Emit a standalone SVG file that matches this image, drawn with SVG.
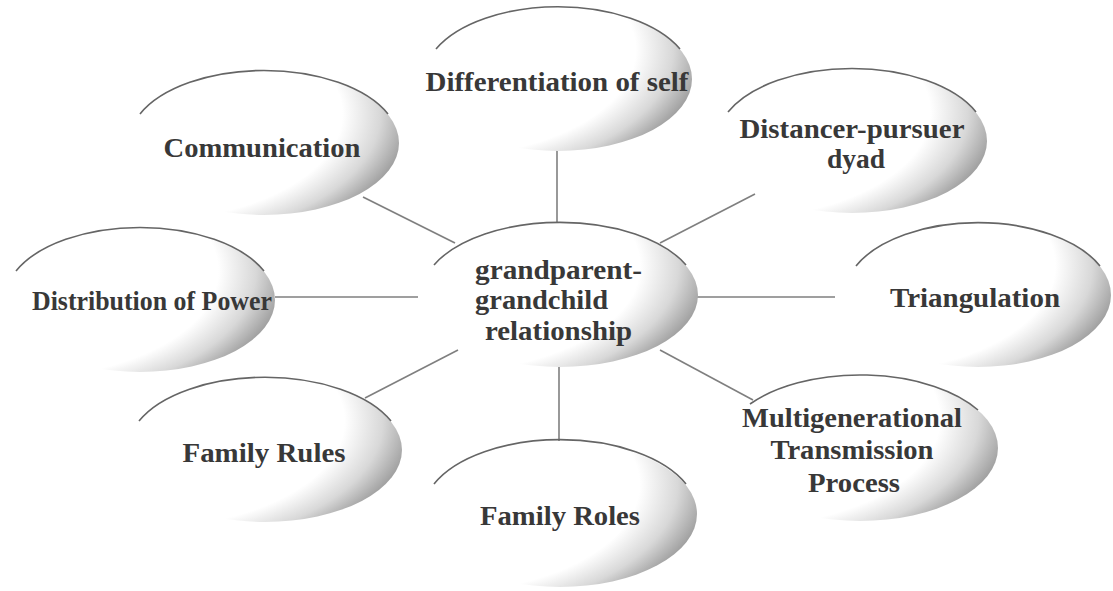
<svg xmlns="http://www.w3.org/2000/svg" width="1113" height="591" viewBox="0 0 1113 591">
  <style>
    .bub { fill: url(#shade); stroke: none; }
    .arc { fill: none; stroke: #656565; stroke-width: 1.6; }
    .lbl { font-family: "Liberation Serif", "Times New Roman", serif; font-weight: bold; font-size: 27px; fill: #383838; text-anchor: middle; }
    .lbl-l { text-anchor: start; }
    .conn line { stroke: #7f7f7f; stroke-width: 1.6; }
  </style>
  <defs>
    <!-- white over the left and top, grey only towards the lower-right rim -->
    <radialGradient id="shade" cx="0.05" cy="0.3" r="1" fx="0.05" fy="0.3">
      <stop offset="0" stop-color="#ffffff"/>
      <stop offset="0.74" stop-color="#ffffff"/>
      <stop offset="0.88" stop-color="#d8d8d8"/>
      <stop offset="1" stop-color="#9c9c9c"/>
    </radialGradient>
  </defs>
  <rect width="1113" height="591" fill="#ffffff"/>

  <g id="connectors" class="conn">
    <line x1="557" y1="150" x2="557" y2="222"/>
    <line x1="363" y1="197" x2="455" y2="243"/>
    <line x1="660" y1="243" x2="755" y2="194"/>
    <line x1="275" y1="297" x2="418" y2="297"/>
    <line x1="697" y1="297" x2="835" y2="297"/>
    <line x1="365" y1="398" x2="458" y2="350"/>
    <line x1="559" y1="367" x2="559" y2="441"/>
    <line x1="660" y1="350" x2="753" y2="400"/>
  </g>

  <g id="node-differentiation" transform="translate(558,79)">
    <ellipse class="bub" rx="134" ry="72"/>
    <path class="arc" d="M-122,-30 A134,72 0 0 1 122,-30"/>
    <text class="lbl" x="-1" y="12" textLength="263" lengthAdjust="spacingAndGlyphs">Differentiation of self</text>
  </g>

  <g id="node-communication" transform="translate(264,143)">
    <ellipse class="bub" rx="135" ry="72"/>
    <path class="arc" d="M-124,-29 A135,72 0 0 1 124,-29"/>
    <text class="lbl" x="-2" y="14" textLength="197" lengthAdjust="spacingAndGlyphs">Communication</text>
  </g>

  <g id="node-distancer" transform="translate(852,141)">
    <ellipse class="bub" rx="135" ry="72"/>
    <path class="arc" d="M-124,-29 A135,72 0 0 1 124,-29"/>
    <text class="lbl" x="0" y="-3" textLength="225" lengthAdjust="spacingAndGlyphs">Distancer-pursuer</text>
    <text class="lbl" x="4" y="27" textLength="58" lengthAdjust="spacingAndGlyphs">dyad</text>
  </g>

  <g id="node-distribution" transform="translate(140,300)">
    <ellipse class="bub" rx="135" ry="72"/>
    <path class="arc" d="M-124,-29 A135,72 0 0 1 124,-29"/>
    <text class="lbl" x="12" y="10" textLength="240" lengthAdjust="spacingAndGlyphs">Distribution of Power</text>
  </g>

  <g id="node-center" transform="translate(560,295)">
    <ellipse class="bub" rx="138" ry="72"/>
    <path class="arc" d="M-126,-30 A138,72 0 0 1 126,-30"/>
    <text class="lbl lbl-l" x="-85" y="-16" textLength="167" lengthAdjust="spacingAndGlyphs">grandparent-</text>
    <text class="lbl lbl-l" x="-85" y="14" textLength="133" lengthAdjust="spacingAndGlyphs">grandchild</text>
    <text class="lbl lbl-l" x="-75" y="45" textLength="147" lengthAdjust="spacingAndGlyphs">relationship</text>
  </g>

  <g id="node-triangulation" transform="translate(978,295)">
    <ellipse class="bub" rx="133" ry="72"/>
    <path class="arc" d="M-122,-29 A133,72 0 0 1 122,-29"/>
    <text class="lbl" x="-3" y="12" textLength="170" lengthAdjust="spacingAndGlyphs">Triangulation</text>
  </g>

  <g id="node-family-rules" transform="translate(265,450)">
    <ellipse class="bub" rx="137" ry="72"/>
    <path class="arc" d="M-126,-29 A137,72 0 0 1 126,-29"/>
    <text class="lbl" x="-1" y="12" textLength="163" lengthAdjust="spacingAndGlyphs">Family Rules</text>
  </g>

  <g id="node-family-roles" transform="translate(560,514)">
    <ellipse class="bub" rx="137" ry="73"/>
    <path class="arc" d="M-126,-30 A137,73 0 0 1 126,-30"/>
    <text class="lbl" x="0" y="11" textLength="160" lengthAdjust="spacingAndGlyphs">Family Roles</text>
  </g>

  <g id="node-multigenerational" transform="translate(860,448)">
    <ellipse class="bub" rx="138" ry="73"/>
    <path class="arc" d="M-110,-44 A138,73 0 0 1 118,-38"/>
    <text class="lbl" x="-8" y="-21" textLength="220" lengthAdjust="spacingAndGlyphs">Multigenerational</text>
    <text class="lbl" x="-8" y="11" textLength="163" lengthAdjust="spacingAndGlyphs">Transmission</text>
    <text class="lbl" x="-6" y="44" textLength="92" lengthAdjust="spacingAndGlyphs">Process</text>
  </g>
</svg>
